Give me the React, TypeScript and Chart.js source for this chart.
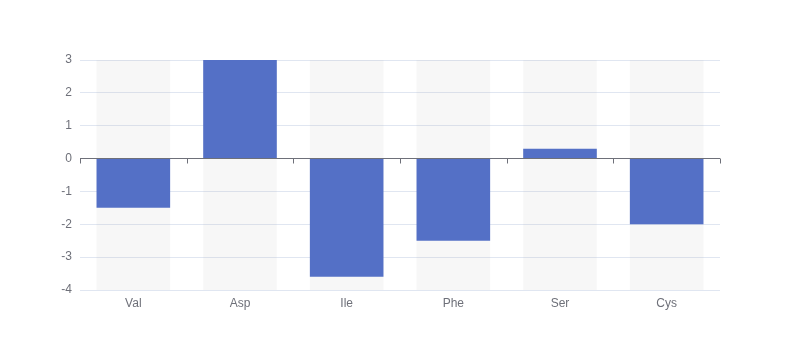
import React, { useEffect, useRef } from "react";
import { Chart, registerables } from "chart.js";

Chart.register(...registerables);

const categories = ["Val", "Asp", "Ile", "Phe", "Ser", "Cys"];
const values = [-1.5, 3, -3.6, -2.5, 0.3, -2];
const yMin = -4;
const yMax = 3;

const zeroAxisPlugin = {
  id: "zeroAxis",
  afterDatasetsDraw(chart: any) {
    const { ctx, chartArea, scales } = chart;
    const y0 = Math.floor(scales.y.getPixelForValue(0)) + 0.5;
    ctx.save();
    ctx.strokeStyle = "#6E7079";
    ctx.lineWidth = 1;
    ctx.beginPath();
    ctx.moveTo(chartArea.left, y0);
    ctx.lineTo(chartArea.right, y0);
    const n = categories.length;
    const w = (chartArea.right - chartArea.left) / n;
    for (let i = 0; i <= n; i++) {
      const x = Math.round(chartArea.left + i * w) + 0.5;
      ctx.moveTo(x, y0);
      ctx.lineTo(x, y0 + 5);
    }
    ctx.stroke();
    ctx.restore();
  },
};

export default function App() {
  const ref = useRef<HTMLCanvasElement>(null);
  useEffect(() => {
    document.body.style.margin = "0";
    const chart = new Chart(ref.current!, {
      type: "bar",
      data: {
        labels: categories,
        datasets: [
          {
            data: values,
            backgroundColor: "#5470c6",
            grouped: false,
            order: 1,
            barPercentage: 0.69,
            categoryPercentage: 1,
          } as any,
          {
            data: categories.map(() => [yMin, yMax]),
            backgroundColor: "rgba(180,180,180,0.1)",
            grouped: false,
            order: 2,
            barPercentage: 0.69,
            categoryPercentage: 1,
          } as any,
        ],
      },
      options: {
        animation: false,
        responsive: false,
        layout: { padding: { left: 0, right: 80, top: 60, bottom: 0 } },
        plugins: { legend: { display: false }, tooltip: { enabled: false } },
        scales: {
          x: {
            grid: { display: false, drawTicks: false },
            border: { display: false },
            ticks: { color: "#6E7079", font: { size: 12, family: "sans-serif" }, padding: 6 },
            afterFit: (s: any) => {
              s.height = 70;
            },
          },
          y: {
            min: yMin,
            max: yMax,
            ticks: { stepSize: 1, color: "#6E7079", font: { size: 12, family: "sans-serif" }, padding: 8 },
            grid: { color: "#E0E6F1", drawTicks: false },
            border: { display: false },
            afterFit: (s: any) => {
              s.width = 80;
            },
          },
        },
      },
      plugins: [zeroAxisPlugin],
    });
    return () => chart.destroy();
  }, []);
  return <canvas ref={ref} width={800} height={360} style={{ display: "block" }} />;
}
